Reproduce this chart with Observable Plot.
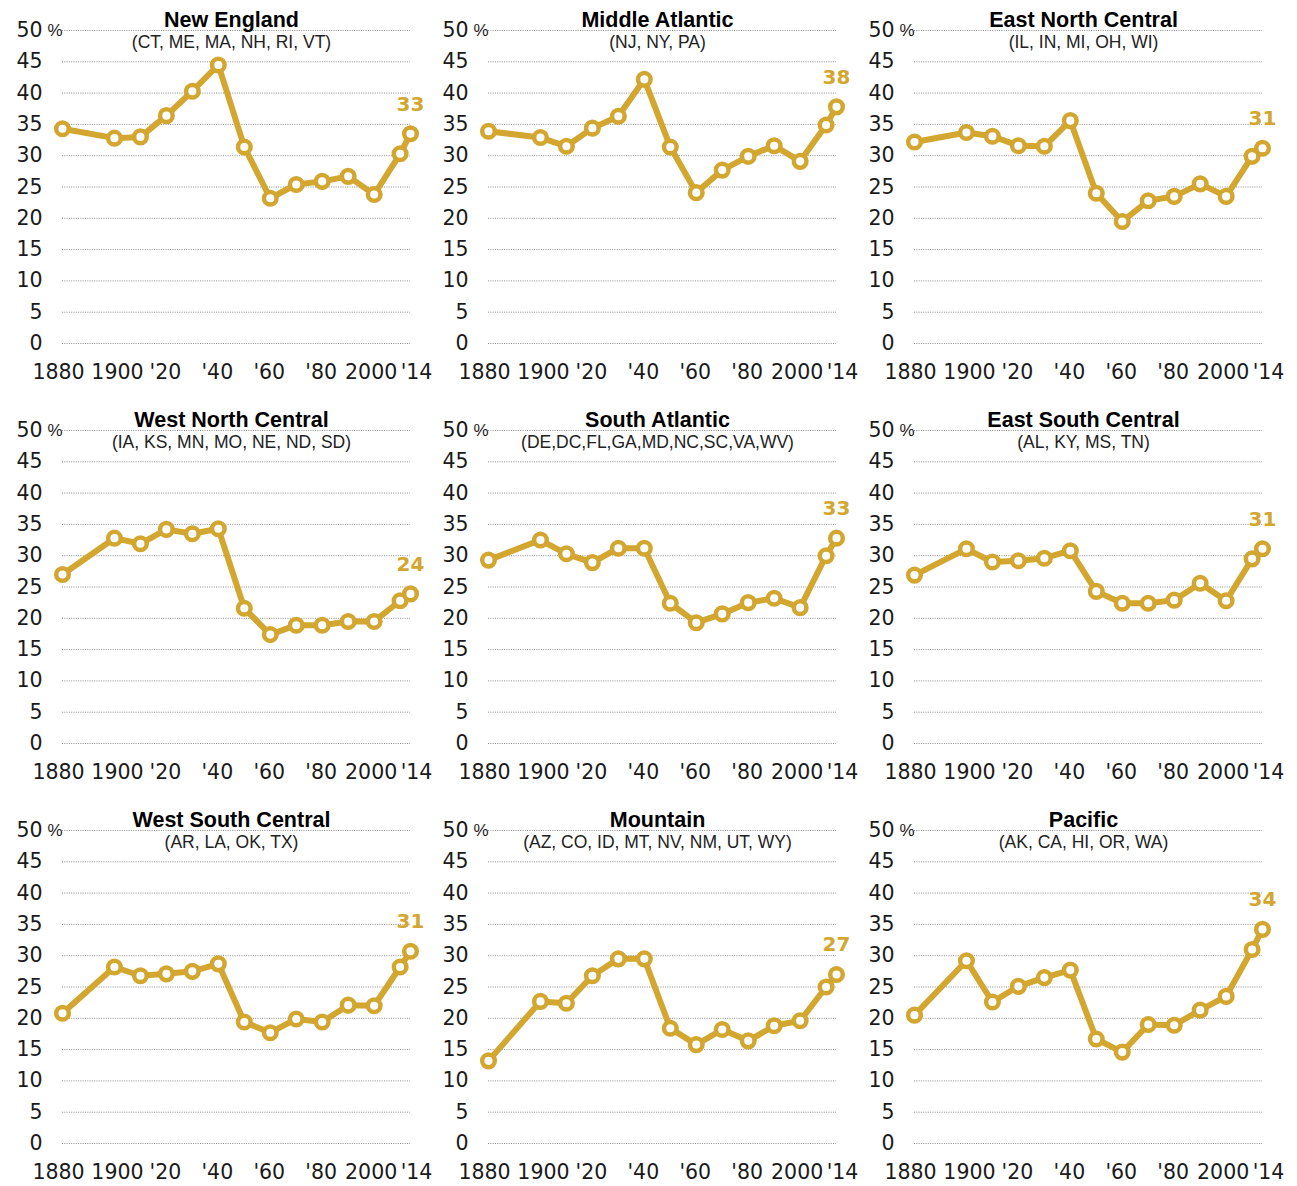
<!DOCTYPE html>
<html>
<head>
<meta charset="utf-8">
<script src="https://cdn.jsdelivr.net/npm/d3@7"></script>
<script src="https://cdn.jsdelivr.net/npm/@observablehq/plot@0.6"></script>
<style>
  html, body { margin: 0; padding: 0; background: #fff; }
  #grid { display: flex; flex-wrap: wrap; width: 1278px; }
  #grid > svg, #grid > figure { margin: 0; overflow: visible; }
</style>
</head>
<body>
<div id="grid"></div>
<script>
// ---- Data ----
const years = [1880, 1900, 1910, 1920, 1930, 1940, 1950, 1960, 1970, 1980, 1990, 2000, 2010, 2014];

const regionNames = [
  "New England", "Middle Atlantic", "East North Central",
  "West North Central", "South Atlantic", "East South Central",
  "West South Central", "Mountain", "Pacific"
];
const regionStates = [
  "(CT, ME, MA, NH, RI, VT)", "(NJ, NY, PA)", "(IL, IN, MI, OH, WI)",
  "(IA, KS, MN, MO, NE, ND, SD)", "(DE,DC,FL,GA,MD,NC,SC,VA,WV)", "(AL, KY, MS, TN)",
  "(AR, LA, OK, TX)", "(AZ, CO, ID, MT, NV, NM, UT, WY)", "(AK, CA, HI, OR, WA)"
];

const newEngland       = [34.3, 32.8, 33.0, 36.4, 40.3, 44.5, 31.4, 23.2, 25.4, 25.9, 26.7, 23.8, 30.3, 33.5];
const middleAtlantic   = [33.9, 32.9, 31.5, 34.4, 36.3, 42.2, 31.4, 24.1, 27.7, 29.9, 31.6, 29.1, 34.9, 37.8];
const eastNorthCentral = [32.2, 33.7, 33.1, 31.6, 31.5, 35.6, 24.0, 19.5, 22.8, 23.5, 25.5, 23.5, 29.9, 31.2];
const westNorthCentral = [27.0, 32.8, 31.9, 34.2, 33.5, 34.3, 21.6, 17.4, 18.9, 18.9, 19.5, 19.5, 22.8, 23.9];
const southAtlantic    = [29.3, 32.5, 30.3, 28.9, 31.2, 31.2, 22.4, 19.3, 20.7, 22.5, 23.2, 21.7, 30.0, 32.8];
const eastSouthCentral = [26.9, 31.1, 29.0, 29.2, 29.6, 30.8, 24.3, 22.4, 22.4, 22.9, 25.6, 22.8, 29.5, 31.1];
const westSouthCentral = [20.8, 28.2, 26.8, 27.1, 27.5, 28.7, 19.4, 17.7, 19.9, 19.4, 22.1, 22.0, 28.2, 30.7];
const mountain         = [13.2, 22.7, 22.4, 26.8, 29.5, 29.5, 18.4, 15.8, 18.2, 16.4, 18.8, 19.6, 25.0, 27.0];
const pacific          = [20.5, 29.2, 22.6, 25.1, 26.5, 27.7, 16.7, 14.6, 19.0, 18.9, 21.3, 23.5, 31.0, 34.2];

const regionValues = [newEngland, middleAtlantic, eastNorthCentral, westNorthCentral,
  southAtlantic, eastSouthCentral, westSouthCentral, mountain, pacific];
const endLabels = ["33", "38", "31", "24", "33", "31", "31", "27", "34"];

const yTicks = [0, 5, 10, 15, 20, 25, 30, 35, 40, 45, 50];
const xTicks = [1880, 1900, 1920, 1940, 1960, 1980, 2000, 2014];
const xTickLabels = ["1880", "1900", "'20", "'40", "'60", "'80", "2000", "'14"];

// ---- Style ----
const gold = "#d3a62f";
const font = "'Liberation Sans', Arial, sans-serif";
const numFont = "'DejaVu Sans', 'Liberation Sans', sans-serif";
const tickLabel = d => xTickLabels[xTicks.indexOf(d)];
const TICK_FS = 20.5;

const grid = document.getElementById("grid");

regionNames.forEach((name, i) => {
  const values = regionValues[i];
  const rows = years.map((year, j) => ({year, value: values[j]}));
  const last = rows[rows.length - 1];
  const xAxis = (ticks, dx) => Plot.axisX({ticks, tickSize: 0, tickPadding: 21, dx, tickFormat: tickLabel, fontSize: TICK_FS, fontFamily: numFont, label: null});

  const chart = Plot.plot({
    width: 426,
    height: 400,
    marginTop: 30,
    marginBottom: 57,
    marginLeft: 62,
    marginRight: 16,
    x: {domain: [1880, 2014]},
    y: {domain: [0, 50]},
    style: {fontFamily: font, fontSize: "20px", color: "#1a1a1a", background: "transparent", overflow: "visible"},
    marks: [
      Plot.ruleY(yTicks, {stroke: "#8c8c8c", strokeWidth: 1, strokeDasharray: "1,1.3"}),
      Plot.axisY({ticks: yTicks, tickSize: 0, tickPadding: 20, fontSize: TICK_FS, fontFamily: numFont, label: null}),
      Plot.text([50], {y: d => d, frameAnchor: "left", textAnchor: "end", dx: 0, dy: 0, text: () => "%", fontSize: 17, fill: "#1a1a1a"}),
      xAxis([1880], -4),
      xAxis([1900], 3),
      xAxis(xTicks.slice(2, 6), -1),
      xAxis([2000], -3),
      xAxis([2014], 6),
      Plot.line(rows, {x: "year", y: "value", stroke: gold, strokeWidth: 6, strokeLinejoin: "round"}),
      Plot.dot(rows, {x: "year", y: "value", r: 6.3, fill: "white", stroke: gold, strokeWidth: 4.5}),
      Plot.text([last], {x: "year", y: "value", text: () => endLabels[i], dy: -23, lineAnchor: "bottom", fill: gold, fontWeight: "bold", fontSize: 20, fontFamily: numFont}),
      Plot.text([name], {frameAnchor: "top", text: d => d, lineAnchor: "bottom", dx: -5, dy: -4, fontWeight: "bold", fontSize: 21.5, fill: "#000"}),
      Plot.text([regionStates[i]], {frameAnchor: "top", text: d => d, lineAnchor: "bottom", dx: -5, dy: 17, fontSize: 17.5, fill: "#222"})
    ]
  });
  grid.appendChild(chart);
});
</script>
</body>
</html>
